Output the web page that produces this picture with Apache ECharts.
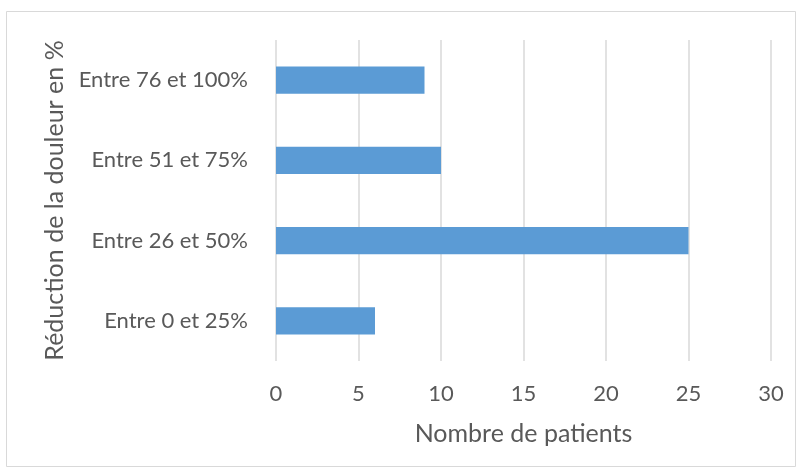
<!DOCTYPE html>
<html>
<head>
<meta charset="utf-8">
<script src="https://cdn.jsdelivr.net/npm/echarts@6/dist/echarts.min.js"></script>
<style>
  html, body { margin: 0; padding: 0; background: #fff; }
  #chart { width: 801px; height: 473px; }
</style>
</head>
<body>
<div id="chart"></div>
<script>
// données
const categories = ['Entre 0 et 25%', 'Entre 26 et 50%', 'Entre 51 et 75%', 'Entre 76 et 100%']
const patients = [6, 25, 10, 9]
const xTicks = [0, 5, 10, 15, 20, 25, 30]

const textColor = '#595959'
const font = 'Lato, "Open Sans", sans-serif'

const chart = echarts.init(document.getElementById('chart'))

chart.setOption({
  animation: false,
  backgroundColor: '#fff',
  graphic: [{
    type: 'rect',
    shape: { x: 6.5, y: 11.5, width: 789, height: 455 },
    style: { fill: 'none', stroke: '#d9d9d9', lineWidth: 1 },
    silent: true
  }],
  grid: { left: 276, right: 30, top: 40, bottom: 112 },
  xAxis: {
    type: 'value',
    min: xTicks[0],
    max: xTicks[xTicks.length - 1],
    interval: 5,
    name: 'Nombre de patients',
    nameLocation: 'middle',
    nameGap: 60,
    nameTextStyle: { color: textColor, fontSize: 25, fontFamily: font },
    axisLine: { show: false },
    axisTick: { show: false },
    axisLabel: { color: textColor, fontSize: 22, fontFamily: font, margin: 22 },
    splitLine: { lineStyle: { color: '#d9d9d9', width: 1.5 } }
  },
  yAxis: {
    type: 'category',
    data: categories,
    name: 'Réduction de la douleur en %',
    nameLocation: 'middle',
    nameGap: 196,
    nameRotate: 90,
    nameTextStyle: { color: textColor, fontSize: 25, fontFamily: font },
    axisLine: { show: false },
    axisTick: { show: false },
    axisLabel: { color: textColor, fontSize: 22, fontFamily: font, margin: 28 }
  },
  series: [{
    type: 'bar',
    data: patients,
    barWidth: '34%',
    itemStyle: { color: '#5b9bd5' }
  }]
})
</script>
</body>
</html>
